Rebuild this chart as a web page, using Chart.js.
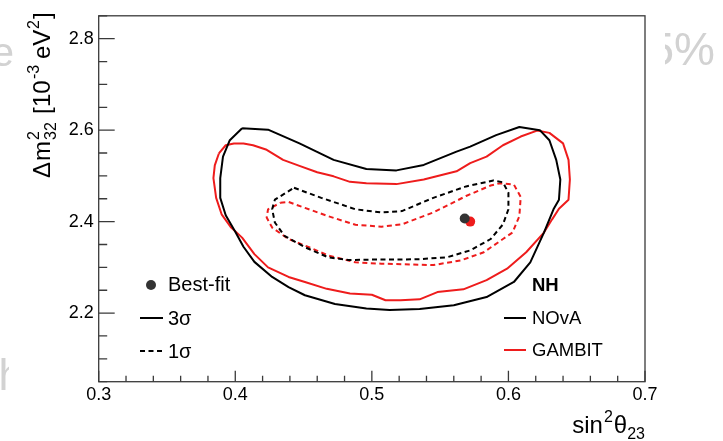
<!DOCTYPE html>
<html>
<head>
<meta charset="utf-8">
<script src="https://cdn.jsdelivr.net/npm/chart.js@4"></script>
<style>
  html, body { margin: 0; padding: 0; background: #fff; }
  #wrap { position: relative; width: 723px; height: 441px; overflow: hidden; }
  canvas { position: absolute; left: 0; top: 0; }
  .ghost { position: absolute; overflow: hidden; font-family: "Liberation Sans", Arial, sans-serif; color: #d2d2d2; white-space: nowrap; }
  .ghost span { position: absolute; top: 0; }
</style>
</head>
<body>
<div id="wrap">
  <canvas id="c" width="723" height="441"></canvas>
  <div class="ghost" style="left:665px; top:22px; width:58px; height:52px; font-size:46px;"><span style="right:8px;">5%</span></div>
  <div class="ghost" style="left:0px; top:30px; width:14px; height:40px; font-size:40px;"><span style="right:0px;">e</span></div>
  <div class="ghost" style="left:0px; top:350px; width:9px; height:50px; font-size:44px;"><span style="right:-14px;">h</span></div>
</div>
<script>
// Axis ranges and tick labels
const xRange = [0.3, 0.7];
const yRange = [2.05, 2.85];
const xTicks = [0.3, 0.4, 0.5, 0.6, 0.7];
const yTicks = [2.2, 2.4, 2.6, 2.8];

// NOvA allowed regions (sin^2 theta23, dm^2_32)
const nova3sigma = [
  [0.405, 2.604], [0.424, 2.601], [0.447, 2.571], [0.472, 2.535], [0.496, 2.515],
  [0.518, 2.512], [0.538, 2.524], [0.562, 2.553], [0.572, 2.564], [0.591, 2.589],
  [0.608, 2.607], [0.623, 2.600], [0.630, 2.578], [0.635, 2.535], [0.638, 2.492],
  [0.637, 2.448], [0.633, 2.427], [0.626, 2.376], [0.616, 2.311], [0.604, 2.268],
  [0.584, 2.235], [0.560, 2.217], [0.535, 2.209], [0.513, 2.207], [0.496, 2.210],
  [0.473, 2.220], [0.451, 2.239], [0.439, 2.257], [0.427, 2.279], [0.414, 2.312],
  [0.406, 2.345], [0.400, 2.378], [0.393, 2.414], [0.389, 2.452], [0.389, 2.495],
  [0.391, 2.542], [0.396, 2.578], [0.405, 2.604]
];
const nova1sigma = [
  [0.443, 2.474], [0.463, 2.452], [0.488, 2.427], [0.507, 2.420], [0.522, 2.423],
  [0.545, 2.452], [0.569, 2.477], [0.589, 2.490], [0.596, 2.486], [0.600, 2.463],
  [0.600, 2.427], [0.596, 2.394], [0.587, 2.362], [0.572, 2.337], [0.555, 2.322],
  [0.535, 2.318], [0.522, 2.317], [0.500, 2.317], [0.483, 2.316], [0.468, 2.322],
  [0.451, 2.344], [0.436, 2.369], [0.429, 2.398], [0.427, 2.427], [0.429, 2.448],
  [0.443, 2.474]
];

// GAMBIT allowed regions
const gambit3sigma = [
  [0.388, 2.549], [0.393, 2.567], [0.399, 2.571], [0.406, 2.571], [0.413, 2.567],
  [0.423, 2.557], [0.435, 2.535], [0.447, 2.522], [0.460, 2.508], [0.472, 2.499],
  [0.484, 2.487], [0.496, 2.484], [0.518, 2.482], [0.538, 2.492], [0.562, 2.510],
  [0.572, 2.528], [0.584, 2.542], [0.596, 2.567], [0.609, 2.586], [0.621, 2.599],
  [0.630, 2.594], [0.640, 2.571], [0.644, 2.535], [0.645, 2.492], [0.644, 2.448],
  [0.637, 2.428], [0.632, 2.405], [0.626, 2.376], [0.613, 2.333], [0.599, 2.297],
  [0.584, 2.272], [0.567, 2.252], [0.548, 2.246], [0.535, 2.230], [0.521, 2.228],
  [0.510, 2.228], [0.500, 2.240], [0.484, 2.243], [0.467, 2.253], [0.451, 2.268],
  [0.439, 2.279], [0.424, 2.300], [0.414, 2.329], [0.405, 2.365], [0.397, 2.387],
  [0.390, 2.416], [0.386, 2.452], [0.384, 2.495], [0.385, 2.523], [0.388, 2.549]
];
const gambit1sigma = [
  [0.433, 2.441], [0.439, 2.443], [0.451, 2.430], [0.468, 2.412], [0.488, 2.393],
  [0.507, 2.389], [0.522, 2.394], [0.545, 2.420], [0.569, 2.456], [0.587, 2.479],
  [0.594, 2.484], [0.604, 2.481], [0.609, 2.454], [0.608, 2.412], [0.603, 2.376],
  [0.596, 2.362], [0.582, 2.333], [0.565, 2.315], [0.545, 2.305], [0.522, 2.307],
  [0.507, 2.308], [0.488, 2.311], [0.468, 2.326], [0.454, 2.344], [0.439, 2.362],
  [0.427, 2.387], [0.423, 2.409], [0.424, 2.427], [0.433, 2.441]
];

// Best-fit points
const novaBest = [0.568, 2.407];
const gambitBest = [0.572, 2.400];

const RED = '#ee1c1c';
const FONT = '"Liberation Sans", Arial, Helvetica, sans-serif';

const toPts = arr => arr.map(p => ({ x: p[0], y: p[1] }));

function contour(label, pts, color, dashed) {
  return {
    label, data: toPts(pts), showLine: true, borderColor: color, backgroundColor: color,
    borderWidth: 2, borderDash: dashed ? [5, 3.5] : [], pointRadius: 0, tension: 0, fill: false,
    borderJoinStyle: 'round'
  };
}
function bestFit(label, p, color) {
  return {
    label, data: [{ x: p[0], y: p[1] }], showLine: false, pointRadius: 5,
    pointBackgroundColor: color, pointBorderWidth: 0, borderColor: color
  };
}

// Frame with ROOT-style inward major/minor ticks
const framePlugin = {
  id: 'frame',
  afterDatasetsDraw(chart) {
    const { ctx, chartArea: a, scales: { x, y } } = chart;
    ctx.save();
    ctx.strokeStyle = '#3a3a3a';
    ctx.lineWidth = 1.3;
    ctx.strokeRect(a.left, a.top, a.right - a.left, a.bottom - a.top);
    ctx.beginPath();
    for (let v = xRange[0]; v <= xRange[1] + 1e-9; v += 0.02) {
      const major = xTicks.some(t => Math.abs(t - v) < 1e-6);
      const px = x.getPixelForValue(v);
      ctx.moveTo(px, a.bottom);
      ctx.lineTo(px, a.bottom - (major ? 11 : 6));
    }
    for (let v = yRange[0]; v <= yRange[1] + 1e-9; v += 0.05) {
      const major = yTicks.some(t => Math.abs(t - v) < 1e-6);
      const py = y.getPixelForValue(v);
      ctx.moveTo(a.left, py);
      ctx.lineTo(a.left + (major ? 16 : 8.5), py);
    }
    ctx.stroke();
    ctx.restore();
  }
};

// Axis titles and legends
const textPlugin = {
  id: 'texts',
  afterDraw(chart) {
    const { ctx } = chart;
    ctx.save();
    ctx.fillStyle = '#000';
    ctx.textBaseline = 'alphabetic';
    ctx.textAlign = 'left';

    // y title: Δm²₃₂ [10⁻³ eV²], read bottom to top
    ctx.save();
    ctx.translate(50, 178);
    ctx.rotate(-Math.PI / 2);
    const big = '24px ' + FONT, small = '16px ' + FONT;
    ctx.font = big;
    ctx.fillText('\u0394', 0, 0);
    ctx.fillText('m', 17, 0);
    ctx.fillText('[', 64, 0);
    ctx.fillText('10', 71, 0);
    ctx.fillText('eV', 119, 0);
    ctx.fillText(']', 159, 0);
    ctx.font = small;
    ctx.fillText('2', 38, -11);
    ctx.fillText('32', 38, 6);
    ctx.fillText('-3', 99, -11);
    ctx.fillText('2', 149, -11);
    ctx.restore();

    // x title: sin²θ₂₃, right-aligned to the frame
    const xb = '24px ' + FONT, xs = '16px ' + FONT;
    ctx.font = xb; const wSin = ctx.measureText('sin').width, wTh = ctx.measureText('\u03b8').width;
    ctx.font = xs; const w2 = ctx.measureText('2').width, w23 = ctx.measureText('23').width;
    let sx = 645 - (wSin + 1 + w2 + 1 + wTh + w23);
    const by = 433;
    ctx.font = xb; ctx.fillText('sin', sx, by); sx += wSin + 1;
    ctx.font = xs; ctx.fillText('2', sx, by - 11); sx += w2 + 1;
    ctx.font = xb; ctx.fillText('\u03b8', sx, by); sx += wTh;
    ctx.font = xs; ctx.fillText('23', sx, by + 6);

    // left legend
    ctx.textBaseline = 'middle';
    ctx.font = '20px ' + FONT;
    ctx.fillStyle = '#333';
    ctx.beginPath(); ctx.arc(151, 285, 5, 0, Math.PI * 2); ctx.fill();
    ctx.fillStyle = '#000';
    ctx.fillText('Best-fit', 168, 285);
    ctx.lineWidth = 2; ctx.strokeStyle = '#000';
    ctx.beginPath(); ctx.moveTo(140, 318); ctx.lineTo(163, 318); ctx.stroke();
    ctx.fillText('3\u03c3', 168, 319);
    ctx.setLineDash([5, 3.5]);
    ctx.beginPath(); ctx.moveTo(140, 351); ctx.lineTo(163, 351); ctx.stroke();
    ctx.setLineDash([]);
    ctx.fillText('1\u03c3', 168, 352);

    // right legend
    ctx.font = 'bold 18.5px ' + FONT;
    ctx.fillText('NH', 532, 286);
    ctx.font = '18.5px ' + FONT;
    ctx.beginPath(); ctx.moveTo(504, 318); ctx.lineTo(526, 318); ctx.stroke();
    ctx.fillText('NOvA', 532, 319);
    ctx.strokeStyle = RED;
    ctx.beginPath(); ctx.moveTo(504, 350); ctx.lineTo(526, 350); ctx.stroke();
    ctx.fillText('GAMBIT', 532, 351);
    ctx.restore();
  }
};

new Chart(document.getElementById('c'), {
  type: 'scatter',
  data: {
    datasets: [
      contour('NOvA 3\u03c3', nova3sigma, '#000', false),
      contour('NOvA 1\u03c3', nova1sigma, '#000', true),
      contour('GAMBIT 3\u03c3', gambit3sigma, RED, false),
      contour('GAMBIT 1\u03c3', gambit1sigma, RED, true),
      bestFit('NOvA best-fit', novaBest, '#333'),
      bestFit('GAMBIT best-fit', gambitBest, RED)
    ]
  },
  options: {
    responsive: false,
    animation: false,
    devicePixelRatio: 1,
    layout: { padding: { left: 0, top: 11, right: 78, bottom: 0 } },
    plugins: { legend: { display: false }, tooltip: { enabled: false } },
    scales: {
      x: {
        type: 'linear', min: xRange[0], max: xRange[1],
        grid: { display: false, drawTicks: false },
        border: { display: false },
        afterBuildTicks: s => { s.ticks = xTicks.map(v => ({ value: v })); },
        afterFit: s => { s.height = 59.3; },
        ticks: {
          padding: 3, color: '#000', maxRotation: 0, autoSkip: false,
          font: { family: FONT, size: 18 },
          callback: v => v.toFixed(1)
        }
      },
      y: {
        type: 'linear', min: yRange[0], max: yRange[1],
        grid: { display: false, drawTicks: false },
        border: { display: false },
        afterBuildTicks: s => { s.ticks = yTicks.map(v => ({ value: v })); },
        afterFit: s => { s.width = 98.7; },
        ticks: {
          padding: 5, color: '#000', autoSkip: false,
          font: { family: FONT, size: 18 },
          callback: v => v.toFixed(1)
        }
      }
    }
  },
  plugins: [framePlugin, textPlugin]
});
</script>
</body>
</html>
